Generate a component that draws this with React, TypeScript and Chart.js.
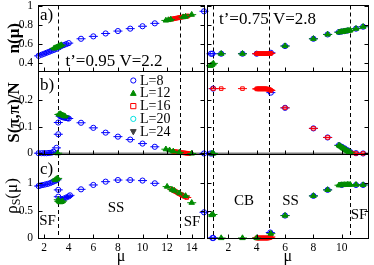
import React, { useEffect, useRef } from 'react';
import { Chart, registerables } from 'chart.js';

Chart.register(...registerables);

type P = [number, number];

// ---------------- legend / series ----------------
const seriesLabels = ['L=8', 'L=12', 'L=16', 'L=20', 'L=24'];
const seriesColors = ['#0000ff', '#008b00', '#ff0000', '#00e0e0', '#404040'];
const seriesShapes = ['circle', 'triangle', 'rect', 'circle', 'triangleDown'];
const seriesFilled = [false, true, false, false, true];

// ---------------- ticks ----------------
const leftXTicks = [2, 4, 6, 8, 10, 12, 14];
const rightXTicks = [2, 4, 6, 8, 10];
const nTicks = [0.4, 0.6, 0.8, 1];
const sTicks = [0, 0.1, 0.2];
const rhoTicks = [0, 0.5, 1];

// phase boundaries (dashed lines)
const leftTransitions = [3.15, 13.07];
const rightTransitions = [0.89, 4.84, 10.55];

// ---------------- left: t'=0.95 V=2.2 ----------------
const nLeftL8: P[] = [[1.55,0.478],[1.8,0.49],[2.0,0.5],[2.2,0.51],[2.4,0.52],[2.6,0.53],[2.8,0.54],[3.0,0.55],[3.2,0.565],[3.4,0.58],[3.6,0.59],[3.8,0.6],[4.0,0.61],[5,0.655],[6,0.68],[7,0.71],[8,0.735],[9,0.76],[10,0.785],[11,0.815],[15,0.94]];
const nLeftL12: P[] = [[2.8,0.555],[2.9,0.56],[3.0,0.565],[3.1,0.57],[3.2,0.578],[3.3,0.585],[3.4,0.59],[11.9,0.845],[12.1,0.85],[12.3,0.856],[13.3,0.88],[13.5,0.885],[14.0,0.905]];
const nLeftL16: P[] = [[12.3,0.858],[12.4,0.86],[12.5,0.862],[12.6,0.865],[12.7,0.867],[12.8,0.87],[12.9,0.872],[13.0,0.875],[13.1,0.877],[13.2,0.88],[13.3,0.882],[13.4,0.885],[13.5,0.887],[13.6,0.89],[13.7,0.892]];

const sLeftL8: P[] = [[1.55,0.001],[1.8,0.001],[2.0,0.001],[2.2,0.001],[2.4,0.002],[2.6,0.003],[2.75,0.006],[3.0,0.021],[3.15,0.072],[3.15,0.116],[3.3,0.14],[3.4,0.138],[3.5,0.136],[3.6,0.135],[3.7,0.134],[3.8,0.133],[3.9,0.132],[4.0,0.131],[5,0.115],[6,0.096],[7,0.078],[8,0.063],[9,0.052],[10,0.037],[11,0.025],[15,0.0]];
const sLeftL12: P[] = [[3.1,0.001],[3.2,0.146],[3.3,0.148],[3.4,0.145],[3.5,0.143],[3.6,0.141],[3.7,0.139],[11.9,0.016],[12.2,0.012],[12.5,0.008],[13.0,0.004],[14.0,0.0]];
const sLeftL16: P[] = [[12.5,0.008],[12.6,0.007],[12.7,0.0065],[12.8,0.006],[12.9,0.005],[13.0,0.004],[13.1,0.0035],[13.2,0.003],[13.3,0.0025],[13.4,0.002],[13.5,0.0015],[13.6,0.001],[13.7,0.0005],[13.8,0.0]];

const rLeftL8: P[] = [[1.55,0.95],[1.7,0.96],[1.9,0.97],[2.1,0.98],[2.3,0.99],[2.5,1.005],[2.7,1.025],[2.9,1.045],[3.05,1.065],[3.15,0.88],[3.15,0.755],[3.4,0.70],[3.6,0.72],[3.8,0.74],[4.0,0.76],[4.1,0.78],[5,0.89],[6,0.97],[7,1.03],[8,1.06],[9,1.06],[10,1.05],[11,1.0],[15,0.47]];
const rLeftL12: P[] = [[2.9,1.06],[3.0,1.08],[3.1,1.09],[3.15,0.70],[3.2,0.67],[3.3,0.655],[3.4,0.66],[3.5,0.675],[12.0,0.94],[12.4,0.885],[12.6,0.865],[13.0,0.82],[13.5,0.77],[14.0,0.645]];
const rLeftL16: P[] = [[12.4,0.89],[12.5,0.875],[12.6,0.86],[12.7,0.848],[12.8,0.835],[12.9,0.822],[13.0,0.81],[13.1,0.797],[13.2,0.785],[13.3,0.772],[13.4,0.76],[13.5,0.75],[13.6,0.74]];

// ---------------- right: t'=0.75 V=2.8 ----------------
const nRightL8: P[] = [[0.78,0.5],[0.88,0.5],[1.5,0.5],[3.0,0.5],[4.0,0.5],[5.0,0.51],[6,0.58],[8,0.655],[9,0.7],[9.8,0.725],[10.0,0.73],[10.2,0.735],[10.4,0.74],[11,0.76],[11.5,0.78]];
const nRightL12: P[] = [[0.75,0.375],[0.85,0.385],[0.95,0.4],[1.5,0.5],[3.0,0.5],[6,0.58],[8,0.655],[9,0.7],[9.8,0.722],[9.9,0.725],[10.0,0.727],[10.1,0.73],[10.2,0.732],[10.3,0.735],[10.4,0.737],[10.5,0.74],[10.6,0.742],[11,0.76],[11.5,0.78]];
const nRightL16: P[] = [[4.0,0.5],[4.05,0.5],[4.1,0.5],[4.15,0.5],[4.2,0.5],[4.25,0.5],[4.3,0.5],[4.35,0.5],[4.4,0.5],[4.45,0.5],[4.5,0.5],[4.55,0.5],[4.6,0.5],[4.65,0.5],[4.7,0.5],[4.75,0.5],[4.8,0.5],[4.85,0.5],[4.9,0.5],[4.95,0.502],[5.0,0.505]];

const sRightL8: P[] = [[0.75,0],[0.88,0],[0.93,0.243],[5.0,0.228],[6,0.171],[8,0.094],[9,0.06],[9.8,0.031],[10.0,0.025],[10.2,0.019],[10.4,0.012],[10.6,0.005],[11,0.001],[11.5,0]];
const sRightL12: P[] = [[0.85,0],[0.95,0],[9.8,0.03],[9.9,0.027],[10.0,0.023],[10.1,0.019],[10.2,0.016],[10.3,0.012],[10.4,0.009],[10.5,0.006],[10.6,0.003]];
const sRightL16: P[] = [[0.95,0.243],[1.5,0.243],[3.0,0.243],[4.0,0.242],[4.05,0.242],[4.1,0.242],[4.15,0.242],[4.2,0.242],[4.25,0.242],[4.3,0.242],[4.35,0.242],[4.4,0.242],[4.45,0.242],[4.5,0.242],[4.55,0.242],[4.6,0.242],[4.65,0.242],[4.7,0.242],[4.75,0.241],[4.8,0.241],[4.85,0.24],[4.9,0.239],[4.95,0.238],[5.0,0.236],[6,0.171],[8,0.094],[9,0.06],[10.7,0.002],[11,0.0],[11.5,0.0]];

const rRightL8: P[] = [[0.88,0],[0.95,0],[4.96,0.1],[6,0.41],[8,0.77],[9,0.88],[10,0.97],[11,0.97],[11.5,0.97]];
const rRightL12: P[] = [[0.82,0.42],[0.92,0.43],[1.5,0],[3.0,0],[4.0,0],[5.0,0.08],[6,0.41],[8,0.77],[9,0.88],[9.8,0.965],[9.9,0.967],[10.0,0.97],[10.1,0.97],[10.2,0.972],[10.3,0.972],[10.4,0.975],[10.5,0.975],[10.6,0.975],[11,0.975],[11.5,0.97]];
const rRightL16: P[] = [[4.0,0],[4.05,0],[4.1,0],[4.15,0],[4.2,0],[4.25,0],[4.3,0],[4.35,0],[4.4,0],[4.45,0],[4.5,0],[4.55,0],[4.6,0],[4.65,0],[4.7,0],[4.75,0],[4.8,0],[4.85,0.002],[4.9,0.005],[4.95,0.01],[5.0,0.02]];

// ---------------- layout ----------------
const W = 374;
const H = 265;
const FONT = "'Liberation Serif', 'Times New Roman', Times, serif";

const columns = [
  { left: 38, right: 204, xMin: 1.5, xMax: 15.0, xTicks: leftXTicks, transitions: leftTransitions,
    series: [[nLeftL8, nLeftL12, nLeftL16], [sLeftL8, sLeftL12, sLeftL16], [rLeftL8, rLeftL12, rLeftL16]] },
  { left: 207, right: 372, xMin: 0.5, xMax: 11.88, xTicks: rightXTicks, transitions: rightTransitions,
    series: [[nRightL8, nRightL12, nRightL16], [sRightL8, sRightL12, sRightL16], [rRightL8, rRightL12, rRightL16]] },
];

const rows = [
  { top: 4.3, bottom: 71, yMin: 0.321, yMax: 1.0, yTicks: nTicks, title: 'n(μ)' },
  { top: 71, bottom: 154, yMin: -0.002, yMax: 0.309, yTicks: sTicks, title: 'S(π,π)/N' },
  { top: 154, bottom: 238, yMin: 0, yMax: 1.536, yTicks: rhoTicks, title: '' },
];

type Txt = { t: string; x: number; y: number; s: number; a?: CanvasTextAlign };
const panelTexts: Txt[][][] = [
  [
    [{ t: 'a)', x: 40, y: 20, s: 17, a: 'left' }, { t: 't’=0.95 V=2.2', x: 114, y: 66, s: 17 }],
    [{ t: 'b)', x: 40, y: 89.5, s: 17, a: 'left' }],
    [{ t: 'c)', x: 40, y: 174, s: 17, a: 'left' }, { t: 'SF', x: 47.5, y: 225, s: 15 }, { t: 'SS', x: 116, y: 212, s: 15 }, { t: 'SF', x: 192, y: 226, s: 15 }],
  ],
  [
    [{ t: 't’=0.75 V=2.8', x: 267.5, y: 23.5, s: 17 }],
    [],
    [{ t: 'CB', x: 244, y: 205, s: 15 }, { t: 'SS', x: 290.5, y: 205, s: 15 }, { t: 'SF', x: 359, y: 219, s: 15 }],
  ],
];

const drawOrder = [2, 0, 1]; // L=12 on top, then L=16, L=8 at the bottom
const radii = [2.6, 3.2, 2.5];

function drawMarker(ctx: CanvasRenderingContext2D, shape: string, x: number, y: number, r: number, color: string, filled: boolean) {
  ctx.beginPath();
  if (shape === 'circle') ctx.arc(x, y, r, 0, Math.PI * 2);
  else if (shape === 'rect') ctx.rect(x - r, y - r, 2 * r, 2 * r);
  else if (shape === 'triangle') { ctx.moveTo(x, y - r * 1.2); ctx.lineTo(x + r * 1.1, y + r * 0.8); ctx.lineTo(x - r * 1.1, y + r * 0.8); ctx.closePath(); }
  else { ctx.moveTo(x, y + r * 1.2); ctx.lineTo(x + r * 1.1, y - r * 0.8); ctx.lineTo(x - r * 1.1, y - r * 0.8); ctx.closePath(); }
  if (filled) { ctx.fillStyle = color; ctx.fill(); }
  ctx.strokeStyle = color; ctx.lineWidth = 1; ctx.stroke();
}

const decor = {
  id: 'decor',
  beforeDatasetsDraw(chart: any, _a: any, o: any) {
    const { ctx, chartArea: ca } = chart;
    const xs = chart.scales.x, ys = chart.scales.y;
    ctx.save();
    ctx.strokeStyle = '#000'; ctx.lineWidth = 1; ctx.setLineDash([4, 3]);
    for (const t of o.transitions) {
      const px = Math.round(xs.getPixelForValue(t)) + 0.5;
      ctx.beginPath(); ctx.moveTo(px, ca.top); ctx.lineTo(px, ca.bottom); ctx.stroke();
    }
    ctx.setLineDash([]);
    if (o.zeroLine) {
      const py = ys.getPixelForValue(0);
      ctx.strokeStyle = '#808080'; ctx.lineWidth = 2;
      ctx.beginPath(); ctx.moveTo(ca.left, py); ctx.lineTo(ca.right, py); ctx.stroke();
    }
    ctx.restore();
  },
  afterDatasetsDraw(chart: any, _a: any, o: any) {
    const { ctx, chartArea: ca } = chart;
    const xs = chart.scales.x, ys = chart.scales.y;
    ctx.save();
    ctx.strokeStyle = '#000'; ctx.lineWidth = 1;
    const L = Math.floor(ca.left) + 0.5, R = Math.floor(ca.right) + 0.5;
    const T = Math.floor(ca.top) + 0.5, B = Math.floor(ca.bottom) + 0.5;
    ctx.strokeRect(L, T, R - L, B - T);
    ctx.beginPath();
    for (const v of o.xTicks) {
      const px = Math.round(xs.getPixelForValue(v)) + 0.5;
      ctx.moveTo(px, B); ctx.lineTo(px, B - 4);
    }
    for (const v of o.yTicks) {
      const py = Math.round(ys.getPixelForValue(v)) + 0.5;
      ctx.moveTo(L, py); ctx.lineTo(L + 4, py);
      ctx.moveTo(R, py); ctx.lineTo(R - 4, py);
    }
    ctx.stroke();

    ctx.fillStyle = '#000';
    ctx.textBaseline = 'alphabetic';
    for (const t of o.texts as Txt[]) {
      ctx.font = `${t.s}px ${FONT}`;
      ctx.textAlign = t.a || 'center';
      ctx.fillText(t.t, t.x, t.y);
    }

    if (o.legend) {
      ctx.textAlign = 'left';
      ctx.textBaseline = 'middle';
      ctx.font = `14px ${FONT}`;
      seriesLabels.forEach((lab, i) => {
        const y = 80.5 + i * 12.8;
        drawMarker(ctx, seriesShapes[i], 133.3, y, 2.6, seriesColors[i], seriesFilled[i]);
        ctx.fillStyle = '#000';
        ctx.fillText(lab, 140, y + 0.5);
      });
    }

    if (o.rhoTitle) {
      ctx.save();
      ctx.translate(13, (ca.top + ca.bottom) / 2);
      ctx.rotate(-Math.PI / 2);
      ctx.textBaseline = 'middle';
      ctx.textAlign = 'left';
      const big = `17px ${FONT}`, small = `12px ${FONT}`;
      ctx.font = big; const w1 = ctx.measureText('ρ').width; const w3 = ctx.measureText('(μ)').width;
      ctx.font = small; const w2 = ctx.measureText('S').width;
      let x0 = -(w1 + w2 + w3) / 2;
      ctx.fillStyle = '#000';
      ctx.font = big; ctx.fillText('ρ', x0, 0); x0 += w1;
      ctx.font = small; ctx.fillText('S', x0, 4); x0 += w2;
      ctx.font = big; ctx.fillText('(μ)', x0, 0);
      ctx.restore();
    }
    ctx.restore();
  },
};

function buildDatasets(list: P[][]) {
  const out: any[] = [];
  list.forEach((data, s) => {
    const pts = data.map(([x, y]) => ({ x, y }));
    out.push({
      label: seriesLabels[s], data: pts, showLine: false, clip: false,
      pointStyle: seriesShapes[s], pointRadius: radii[s], pointBorderWidth: 1,
      borderColor: seriesColors[s], backgroundColor: seriesFilled[s] ? seriesColors[s] : 'rgba(0,0,0,0)',
      order: drawOrder[s],
    });
    out.push({
      label: seriesLabels[s] + ' bar', data: pts, showLine: false, clip: false,
      pointStyle: 'line', pointRadius: 4.5, pointBorderWidth: 1,
      borderColor: seriesColors[s], backgroundColor: seriesColors[s],
      order: drawOrder[s] + 0.5,
    });
  });
  return out;
}

export default function App() {
  const refs = useRef<(HTMLCanvasElement | null)[]>([]);

  useEffect(() => {
    const charts: Chart[] = [];
    let k = 0;
    columns.forEach((col, ci) => {
      rows.forEach((row, ri) => {
        const canvas = refs.current[k++];
        if (!canvas) return;
        const isLeft = ci === 0;
        const isBottom = ri === rows.length - 1;
        const tickFont = { family: FONT, size: 11.5 };
        const chart = new Chart(canvas, {
          type: 'scatter',
          data: { datasets: buildDatasets(col.series[ri]) },
          plugins: [decor as any],
          options: {
            animation: false,
            responsive: false,
            events: [],
            layout: {
              padding: {
                left: isLeft ? 0 : col.left,
                right: W - col.right,
                top: row.top,
                bottom: isBottom ? 0 : H - row.bottom,
              },
            },
            plugins: {
              legend: { display: false },
              tooltip: { enabled: false },
              decor: {
                transitions: col.transitions,
                xTicks: col.xTicks,
                yTicks: row.yTicks,
                zeroLine: ri === 1,
                texts: panelTexts[ci][ri],
                legend: isLeft && ri === 1,
                rhoTitle: isLeft && ri === 2,
              },
            } as any,
            scales: {
              x: {
                type: 'linear',
                min: col.xMin,
                max: col.xMax,
                display: isBottom,
                afterBuildTicks: (s: any) => { s.ticks = col.xTicks.map((v) => ({ value: v })); },
                afterFit: (s: any) => {
                  if (isBottom) s.height = H - 238;
                  s.paddingLeft = 0; s.paddingRight = 0; s.paddingTop = 0; s.paddingBottom = 0;
                },
                ticks: { autoSkip: false, maxRotation: 0, font: tickFont, color: '#000', padding: 3, callback: (v: any) => String(v) },
                grid: { display: false, drawTicks: false },
                border: { display: false },
                title: { display: true, text: 'μ', color: '#000', font: { family: FONT, size: 16, lineHeight: 1 }, padding: { top: 0, bottom: 0 } },
              },
              y: {
                type: 'linear',
                min: row.yMin,
                max: row.yMax,
                display: isLeft,
                afterBuildTicks: (s: any) => { s.ticks = row.yTicks.map((v) => ({ value: v })); },
                afterFit: (s: any) => {
                  if (isLeft) s.width = col.left;
                  s.paddingLeft = 0; s.paddingRight = 0; s.paddingTop = 0; s.paddingBottom = 0;
                },
                ticks: { autoSkip: false, font: tickFont, color: '#000', padding: 5, callback: (v: any) => String(v) },
                grid: { display: false, drawTicks: false },
                border: { display: false },
                title: {
                  display: row.title !== '',
                  text: row.title,
                  color: '#000',
                  font: { family: FONT, size: 17, weight: 'bold', lineHeight: 1 },
                  padding: { top: 6, bottom: 0 },
                },
              },
            },
          } as any,
        });
        charts.push(chart);
      });
    });
    return () => charts.forEach((c) => c.destroy());
  }, []);

  const n = columns.length * rows.length;
  return (
    <div style={{ position: 'absolute', left: 0, top: 0, width: W, height: H, background: '#fff' }}>
      {Array.from({ length: n }).map((_, i) => (
        <canvas
          key={i}
          ref={(el) => { refs.current[i] = el; }}
          width={W}
          height={H}
          style={{ position: 'absolute', left: 0, top: 0 }}
        />
      ))}
    </div>
  );
}
